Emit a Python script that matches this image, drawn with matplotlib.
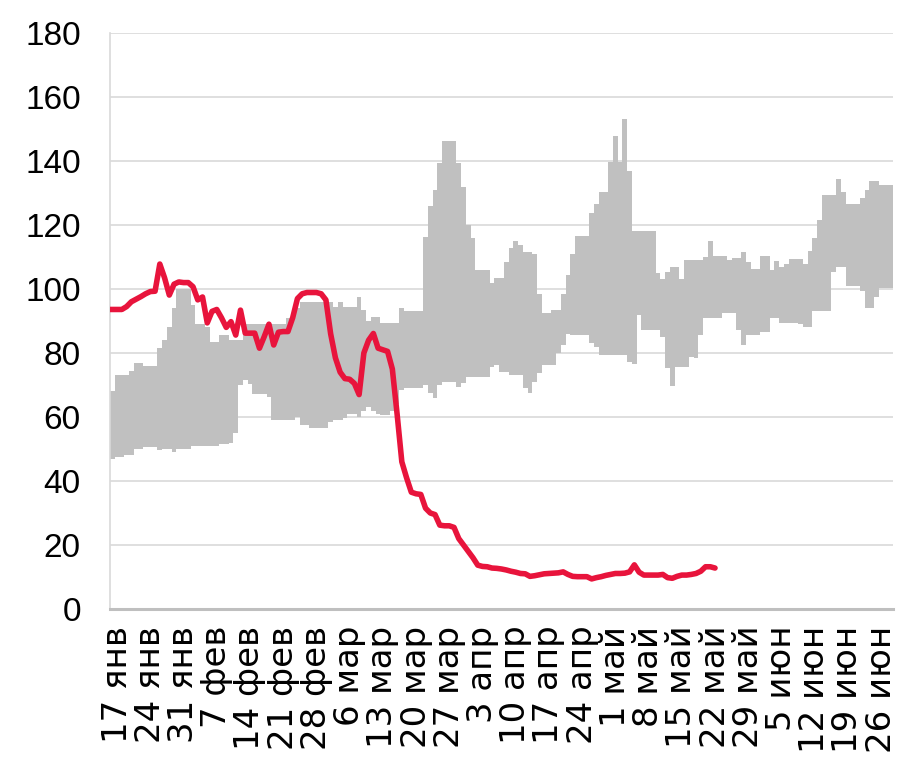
import numpy as np
import pandas as pd
import matplotlib
matplotlib.use('Agg')
import matplotlib.pyplot as plt

plt.rcParams['font.family'] = ['Liberation Sans', 'DejaVu Sans']

# ---- data (daily values, 2024) ----
band_start = '2024-01-16'
band_hi = [68, 73, 73, 73, 74.5, 77, 77, 76, 76, 76,
           81.5, 84, 88, 94, 100, 100, 100, 95, 89, 89,
           88, 83.5, 83.5, 85.6, 85.6, 84, 84, 84, 89, 89,
           89, 89, 89, 89, 89, 89, 89, 91, 91, 94,
           96, 96, 96, 96, 96, 96, 96, 94.5, 96, 94.5,
           94.5, 94.5, 97.6, 93.5, 90, 91.4, 91.4, 89.3, 89.3, 89.3,
           89.3, 94, 93, 93, 93, 93, 116.3, 126, 131, 139.3,
           146.4, 146.4, 146.4, 139.5, 132, 120, 115.8, 106, 106, 106,
           102, 103.4, 103.4, 108.5, 112.7, 115, 113.7, 111.7, 111.7, 111,
           98.5, 92.6, 92.6, 93.4, 93.4, 98.4, 104.4, 111, 116.6, 116.6,
           116.6, 123.6, 126.7, 130.4, 130.4, 139.8, 147.8, 139.8, 153, 137,
           118, 118, 118, 118, 118, 105, 103, 105.2, 107, 107,
           103, 109, 109, 109, 109, 110, 115, 110.3, 110.3, 110.3,
           109, 109.6, 109.6, 111.5, 108.3, 106.1, 106.1, 110.2, 110.2, 106,
           108.8, 107, 107.7, 109.3, 109.3, 109.3, 107.8, 112, 115.8, 121.6,
           129.4, 129.4, 129.4, 134.3, 130.4, 126.6, 126.6, 126.6, 128.3, 130.8,
           133.7, 133.7, 132.4, 132.4, 132.4]
band_lo = [47, 47.6, 47.6, 48, 48, 50, 50, 50.7, 50.7, 50.7,
           49.7, 50, 50, 49, 50, 50, 50, 51, 51, 51,
           51, 51, 51, 51.5, 51.5, 52, 55, 70, 71.5, 70.3,
           67.3, 67.3, 67.3, 66.3, 59.2, 59.2, 59.2, 59.2, 59.2, 60,
           57.5, 57.5, 56.5, 56.5, 56.5, 56.5, 58.5, 59, 59, 59.6,
           61, 61, 60, 62, 63, 62, 61, 60.6, 60.6, 62,
           64, 68.4, 69, 69, 69, 69, 70, 67.4, 66, 70,
           71, 71, 71, 69.5, 70.6, 72.6, 72.6, 72.6, 72.6, 72.6,
           75.7, 76.2, 74.2, 74.2, 73.1, 73.1, 73.1, 69, 67.4, 71,
           73.6, 76.2, 76.2, 76.2, 80, 82.5, 86, 85.6, 85.6, 85.6,
           85.6, 83, 82, 79.4, 79.4, 79.4, 79.4, 79.4, 79.4, 77.3,
           76.5, 91.9, 87.2, 87.2, 87.2, 87.2, 85.1, 75.2, 69.7, 75.5,
           75.5, 75.5, 78.8, 78.5, 85.6, 91, 91, 91, 91, 92.4,
           92.4, 92.4, 87.2, 82.5, 85.6, 85.6, 85.6, 86.7, 86.7, 91,
           91, 89.3, 89.3, 89.3, 89.3, 89, 88.2, 88.2, 93.2, 93.2,
           93.2, 93.2, 105.4, 107, 107, 100.8, 100.8, 100.8, 99.4, 94.2,
           94.2, 97.6, 100.2, 100.2, 100.2]

line_start = '2024-01-15'
line_vals = [93.6, 93.6, 93.6, 93.6, 94.5, 96, 96.8, 97.6, 98.5, 99.2,
             99.3, 107.8, 103.5, 98.1, 101.5, 102.2, 102, 102, 100.7, 96.6,
             97.5, 89.4, 93, 93.6, 91, 88, 89.8, 85.6, 93.4, 86.2,
             86.2, 86.2, 81.5, 85.1, 89, 82.5, 86.5, 86.7, 86.7, 91,
             97, 98.5, 98.9, 98.9, 98.9, 98.5, 96.6, 86, 78.5, 74,
             72, 71.8, 70.5, 67, 80, 84, 86.1, 81.5, 81, 80.5,
             75, 61, 46, 41, 36.5, 36, 35.8, 31.5, 30, 29.5,
             26.2, 26, 26, 25.5, 22, 20, 18, 16, 13.7, 13.3,
             13.2, 12.8, 12.7, 12.5, 12.2, 11.8, 11.5, 11.1, 11, 10.2,
             10.4, 10.7, 11, 11.1, 11.2, 11.3, 11.6, 10.8, 10.2, 10.1,
             10.1, 10.1, 9.4, 9.8, 10.1, 10.5, 10.8, 11.1, 11.1, 11.2,
             11.6, 13.8, 11.5, 10.6, 10.6, 10.6, 10.6, 10.8, 9.8, 9.6,
             10.2, 10.6, 10.6, 10.8, 11.1, 11.8, 13.2, 13.2, 12.8]

tick_labels = ['17 янв', '24 янв', '31 янв', '7 фев', '14 фев', '21 фев', '28 фев',
               '6 мар', '13 мар', '20 мар', '27 мар', '3 апр', '10 апр', '17 апр',
               '24 апр', '1 май', '8 май', '15 май', '22 май', '29 май', '5 июн',
               '12 июн', '19 июн', '26 июн']

assert len(band_hi) == len(band_lo)

band_dates = pd.date_range(band_start, periods=len(band_hi), freq='D')
line_dates = pd.date_range(line_start, periods=len(line_vals), freq='D')
tick_dates = pd.date_range('2024-01-17', periods=len(tick_labels), freq='7D')

# column edges so the band looks like gap-less stacked columns
half = pd.Timedelta(hours=12)
edges = list(band_dates - half) + [band_dates[-1] + half]
hi_e = band_hi + [band_hi[-1]]
lo_e = band_lo + [band_lo[-1]]

fig = plt.figure(figsize=(9, 7.67), dpi=100)
ax = fig.add_axes([0.1222, 0.206, 0.870, 0.751])

ax.fill_between(edges, lo_e, hi_e, step='post', color='#C0C0C0', lw=0, zorder=2)
ax.plot(line_dates, line_vals, color='#E8143C', lw=4, solid_joinstyle='round',
        solid_capstyle='round', zorder=3)

ax.set_ylim(0, 180)
ax.set_yticks(range(0, 181, 20))
ax.set_xlim(band_dates[0] - half, band_dates[-1] + half)
ax.set_xticks(tick_dates)
ax.set_xticklabels(tick_labels, rotation=90, family=['DejaVu Sans'], fontsize=24.5)

ax.grid(axis='y', color='#D9D9D9', lw=1.2, zorder=0)
ax.set_axisbelow(True)
for s in ['top', 'right']:
    ax.spines[s].set_visible(False)
ax.spines['left'].set_color('#D9D9D9')
ax.spines['left'].set_linewidth(1.2)
ax.spines['bottom'].set_color('#BFBFBF')
ax.spines['bottom'].set_linewidth(2.2)

ax.tick_params(axis='y', length=0, pad=21, labelsize=24, colors='#000000')
ax.tick_params(axis='x', length=0, pad=12, colors='#000000')

fig.savefig('out.png', dpi=100)
